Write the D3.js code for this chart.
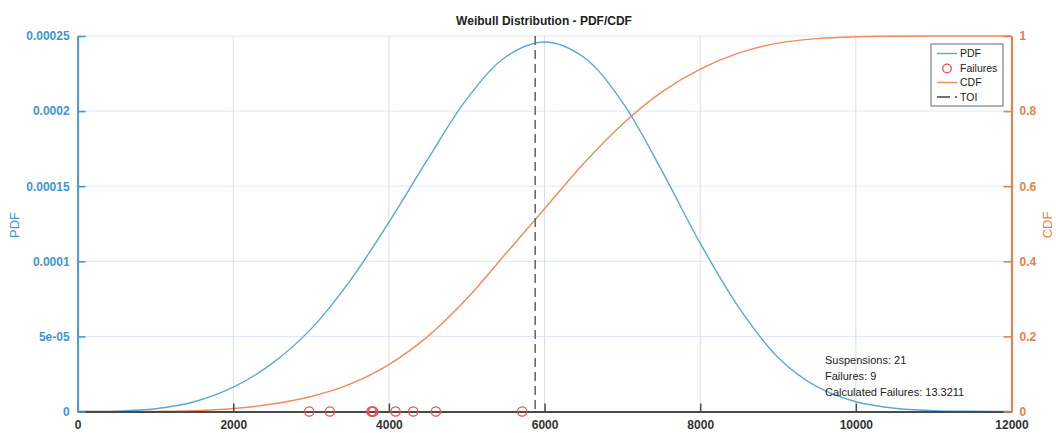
<!DOCTYPE html>
<html>
<head>
<meta charset="utf-8">
<script src="https://cdn.jsdelivr.net/npm/d3@7"></script>
<style>
  html, body { margin: 0; padding: 0; background: #fff; }
  svg { display: block; font-family: "Liberation Sans", Arial, Helvetica, sans-serif; }
</style>
</head>
<body>
<svg id="chart" width="1056" height="433"></svg>
<script>
// ---- data ----
const xGrid = [0, 500, 1000, 1500, 2000, 2500, 3000, 3500, 4000, 4500, 5000, 5500, 6000,
               6500, 7000, 7500, 8000, 8500, 9000, 9500, 10000, 10500, 11000, 11500, 12000];
const pdfValues = [0, 0.0000002, 0.0000018, 0.0000065, 0.0000162, 0.000032, 0.000055, 0.000087,
                   0.000126, 0.000168, 0.000208, 0.000236, 0.000246, 0.000236, 0.000206,
                   0.000161, 0.000112, 0.000069, 0.000036, 0.0000165, 0.0000065, 0.0000022,
                   0.0000006, 0.00000012, 0.00000002];
const cdfValues = [0, 0.00002, 0.0004, 0.002, 0.008, 0.02, 0.04, 0.073, 0.125, 0.2, 0.3,
                   0.42, 0.54, 0.66, 0.765, 0.85, 0.912, 0.955, 0.981, 0.993, 0.998, 0.9995,
                   1, 1, 1];
const failureTimes = [2976, 3242, 3775, 3790, 3800, 4086, 4312, 4604, 5712];
const toiValue = 5880;
const xTicks = [0, 2000, 4000, 6000, 8000, 10000, 12000];
const xTickLabels = ["0", "2000", "4000", "6000", "8000", "10000", "12000"];
const pdfTicks = [0, 0.00005, 0.0001, 0.00015, 0.0002, 0.00025];
const pdfTickLabels = ["0", "5e-05", "0.0001", "0.00015", "0.0002", "0.00025"];
const cdfTicks = [0, 0.2, 0.4, 0.6, 0.8, 1];
const cdfTickLabels = ["0", "0.2", "0.4", "0.6", "0.8", "1"];
const legendLabels = ["PDF", "Failures", "CDF", "TOI"];
const annotations = ["Suspensions: 21", "Failures: 9", "Calculated Failures: 13.3211"];
const titleText = "Weibull Distribution - PDF/CDF";

// ---- layout ----
const L = 77.6, R = 1011.5, T = 36, B = 411.5;
const blue = "#5aa7dd", blueAxis = "#4a97d4", orange = "#f28a5a", orangeAxis = "#f07d45";
const red = "#ef4a4f", dark = "#4a4a4a";

const svg = d3.select("#chart");
const x = d3.scaleLinear().domain([0, 12000]).range([L, R]);
const yL = d3.scaleLinear().domain([0, 0.00025]).range([B, T]);
const yR = d3.scaleLinear().domain([0, 1]).range([B, T]);

// gridlines
svg.append("g").selectAll("line").data(pdfTicks).join("line")
  .attr("x1", L).attr("x2", R).attr("y1", d => yL(d)).attr("y2", d => yL(d))
  .attr("stroke", "#dce8f3").attr("stroke-width", 1);
svg.append("g").selectAll("line").data(xTicks.slice(1, -1)).join("line")
  .attr("x1", d => x(d)).attr("x2", d => x(d)).attr("y1", T).attr("y2", B)
  .attr("stroke", "#d9dde2").attr("stroke-width", 1);

// curves
const smooth = d3.curveCatmullRom.alpha(0.5);
const pdfLine = d3.line().x((d, i) => x(xGrid[i])).y(d => yL(d)).curve(smooth);
const cdfLine = d3.line().x((d, i) => x(xGrid[i])).y(d => yR(d)).curve(smooth);
svg.append("path").attr("d", cdfLine(cdfValues)).attr("fill", "none")
  .attr("stroke", orange).attr("stroke-width", 1.4);
svg.append("path").attr("d", pdfLine(pdfValues)).attr("fill", "none")
  .attr("stroke", blue).attr("stroke-width", 1.4);

// TOI
svg.append("line").attr("x1", x(toiValue)).attr("x2", x(toiValue)).attr("y1", T).attr("y2", B)
  .attr("stroke", "#6a6a6a").attr("stroke-width", 1.6).attr("stroke-dasharray", "9,5");

// bottom axis
const xAxis = d3.axisBottom(x).tickValues(xTicks).tickFormat((d, i) => xTickLabels[i])
  .tickSizeInner(-8).tickSizeOuter(0).tickPadding(9);
const gx = svg.append("g").attr("transform", `translate(0,${B})`).call(xAxis);
gx.select(".domain").attr("stroke", dark).attr("stroke-width", 2);
gx.selectAll(".tick line").attr("stroke", dark).attr("stroke-width", 1.5);
gx.selectAll(".tick text").attr("fill", "#333").attr("font-size", 12).attr("font-weight", "bold")
  .attr("font-family", "Liberation Sans, Arial, sans-serif");

// failures
svg.append("g").selectAll("circle").data(failureTimes).join("circle")
  .attr("cx", d => x(d)).attr("cy", yL(0)).attr("r", 4.6)
  .attr("fill", "none").attr("stroke", red).attr("stroke-width", 1.3);

// left axis
const yAxisL = d3.axisLeft(yL).tickValues(pdfTicks).tickFormat((d, i) => pdfTickLabels[i])
  .tickSizeInner(-8).tickSizeOuter(0).tickPadding(8);
const gl = svg.append("g").attr("transform", `translate(${L},0)`).call(yAxisL);
gl.select(".domain").attr("stroke", blueAxis).attr("stroke-width", 2);
gl.selectAll(".tick line").attr("stroke", blueAxis).attr("stroke-width", 1.6);
gl.selectAll(".tick text").attr("fill", "#3f95d6").attr("font-size", 12).attr("font-weight", "bold")
  .attr("font-family", "Liberation Sans, Arial, sans-serif");

// right axis
const yAxisR = d3.axisRight(yR).tickValues(cdfTicks).tickFormat((d, i) => cdfTickLabels[i])
  .tickSizeInner(-8).tickSizeOuter(0).tickPadding(8);
const gr = svg.append("g").attr("transform", `translate(${R},0)`).call(yAxisR);
gr.select(".domain").attr("stroke", orangeAxis).attr("stroke-width", 2);
gr.selectAll(".tick line").attr("stroke", orangeAxis).attr("stroke-width", 1.6);
gr.selectAll(".tick text").attr("fill", "#f07d45").attr("font-size", 12).attr("font-weight", "bold")
  .attr("font-family", "Liberation Sans, Arial, sans-serif");

// axis titles
svg.append("text").attr("transform", `translate(19,225) rotate(-90)`).attr("text-anchor", "middle")
  .attr("font-size", 13).attr("fill", "#3f95d6").text("PDF");
svg.append("text").attr("transform", `translate(1052,225) rotate(-90)`).attr("text-anchor", "middle")
  .attr("font-size", 13).attr("fill", "#f07d45").text("CDF");

// title
svg.append("text").attr("x", 544).attr("y", 25).attr("text-anchor", "middle")
  .attr("font-size", 12).attr("font-weight", "bold").attr("fill", "#222").text(titleText);

// legend
const lg = svg.append("g").attr("transform", "translate(931,44)");
lg.append("rect").attr("width", 72).attr("height", 62).attr("fill", "#fff")
  .attr("stroke", "#666").attr("stroke-width", 1);
const rowY = [9.5, 24.5, 38.5, 53];
const lx1 = 6, lx2 = 26, tx = 29;
lg.append("line").attr("x1", lx1).attr("x2", lx2).attr("y1", rowY[0]).attr("y2", rowY[0])
  .attr("stroke", blue).attr("stroke-width", 1.4);
lg.append("circle").attr("cx", 16).attr("cy", rowY[1]).attr("r", 4.3)
  .attr("fill", "none").attr("stroke", red).attr("stroke-width", 1.3);
lg.append("line").attr("x1", lx1).attr("x2", lx2).attr("y1", rowY[2]).attr("y2", rowY[2])
  .attr("stroke", orange).attr("stroke-width", 1.4);
lg.append("line").attr("x1", lx1).attr("x2", lx2).attr("y1", rowY[3]).attr("y2", rowY[3])
  .attr("stroke", "#444").attr("stroke-width", 1.4).attr("stroke-dasharray", "13,5");
lg.selectAll("text.leg").data(legendLabels).join("text").attr("class", "leg")
  .attr("x", tx).attr("y", (d, i) => rowY[i]).attr("dy", "0.35em")
  .attr("font-size", 10.5).attr("fill", "#222").text(d => d);

// annotations
svg.append("g").selectAll("text").data(annotations).join("text")
  .attr("x", 825).attr("y", (d, i) => 360 + i * 16.2).attr("dy", "0.35em")
  .attr("font-size", 11).attr("fill", "#222").text(d => d);
</script>
</body>
</html>
